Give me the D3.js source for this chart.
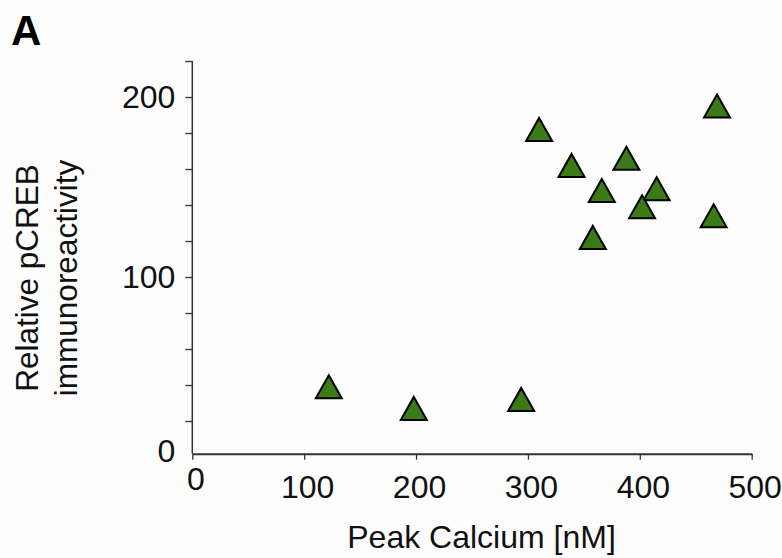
<!DOCTYPE html>
<html>
<head>
<meta charset="utf-8">
<script src="https://cdn.jsdelivr.net/npm/d3@7"></script>
<style>
  body { margin: 0; background: #fdfdfd; }
  svg { display: block; font-family: "Liberation Sans", Arial, Helvetica, sans-serif; }
</style>
</head>
<body>
<div id="chart"></div>
<script>
// peak calcium (nM) vs relative pCREB immunoreactivity
var peakCalcium = [122, 198, 294, 310, 339, 388, 366, 358, 415, 402, 469, 466];
var pcreb       = [39, 27, 32, 182, 162, 166, 148, 122, 149, 139, 195, 134];

var xTicks = [0, 100, 200, 300, 400, 500];
var yTicks = [0, 20, 40, 60, 80, 100, 120, 140, 160, 180, 200, 220];
var yLabelled = [0, 100, 200];

var width = 782, height = 558;
var fs = 32;

var svg = d3.select("#chart").append("svg")
    .attr("width", width)
    .attr("height", height);

svg.append("rect").attr("width", width).attr("height", height).attr("fill", "#fdfdfd");

var x = d3.scaleLinear().domain([0, 500]).range([192.3, 751.7]);
var y = d3.scaleLinear().domain([0, 200]).range([457, 97]);
var xAxisY = 453.7;

// y axis
var gy = svg.append("g")
    .attr("transform", "translate(" + x(0) + ",0)")
    .call(d3.axisLeft(y)
        .tickValues(yTicks)
        .tickSize(7)
        .tickSizeOuter(0)
        .tickPadding(10)
        .tickFormat(function (d) { return yLabelled.includes(d) ? d : ""; }));
gy.select(".domain").remove();
gy.append("line")
    .attr("y1", y(220)).attr("y2", xAxisY)
    .attr("stroke", "#333").attr("stroke-width", 1.5);
gy.selectAll(".tick line").attr("stroke", "#333").attr("stroke-width", 1.3)
    .filter(function (d) { return d == 0; }).remove();
gy.selectAll(".tick text")
    .attr("font-size", fs).attr("fill", "#111")
    .attr("font-family", null)
    .attr("dy", function (d) { return d == 0 ? "0.14em" : "0.34em"; });

// x axis
var gx = svg.append("g")
    .attr("transform", "translate(0," + xAxisY + ")")
    .call(d3.axisBottom(x)
        .tickValues(xTicks)
        .tickSize(6)
        .tickSizeOuter(0)
        .tickPadding(15.5));
gx.select(".domain").attr("stroke", "#333").attr("stroke-width", 2);
gx.selectAll(".tick line").attr("stroke", "#333").attr("stroke-width", 1.3);
gx.selectAll(".tick text")
    .attr("font-size", fs).attr("fill", "#111")
    .attr("font-family", null)
    .attr("dx", 3)
    .attr("dy", function (d) { return d == 0 ? "0.47em" : "0.71em"; });

// markers (triangles centred on their bounding box)
var tw = 26, th = 23;
var tri = "M0," + (-th / 2) + "L" + (tw / 2) + "," + (th / 2) + "L" + (-tw / 2) + "," + (th / 2) + "Z";

svg.append("g")
    .selectAll("path")
    .data(peakCalcium.map(function (v, i) { return {x: v, y: pcreb[i]}; }))
    .enter().append("path")
    .attr("d", tri)
    .attr("transform", function (d) { return "translate(" + x(d.x) + "," + y(d.y) + ")"; })
    .attr("fill", "#3a7b17")
    .attr("stroke", "#000")
    .attr("stroke-width", 2)
    .attr("stroke-linejoin", "miter");

// axis titles
svg.append("text")
    .attr("x", 481.5).attr("y", 548)
    .attr("text-anchor", "middle")
    .attr("font-size", fs).attr("fill", "#111")
    .text("Peak Calcium [nM]");

var yt = svg.append("text")
    .attr("transform", "translate(0,278) rotate(-90)")
    .attr("text-anchor", "middle")
    .attr("font-size", 31.5).attr("fill", "#111");
yt.append("tspan").attr("x", 0).attr("y", 38).text("Relative pCREB");
yt.append("tspan").attr("x", 0).attr("y", 76.5).text("immunoreactivity");

// panel letter
svg.append("text")
    .attr("x", 11).attr("y", 45)
    .attr("font-size", 42).attr("font-weight", "bold").attr("fill", "#000")
    .text("A");
</script>
</body>
</html>
